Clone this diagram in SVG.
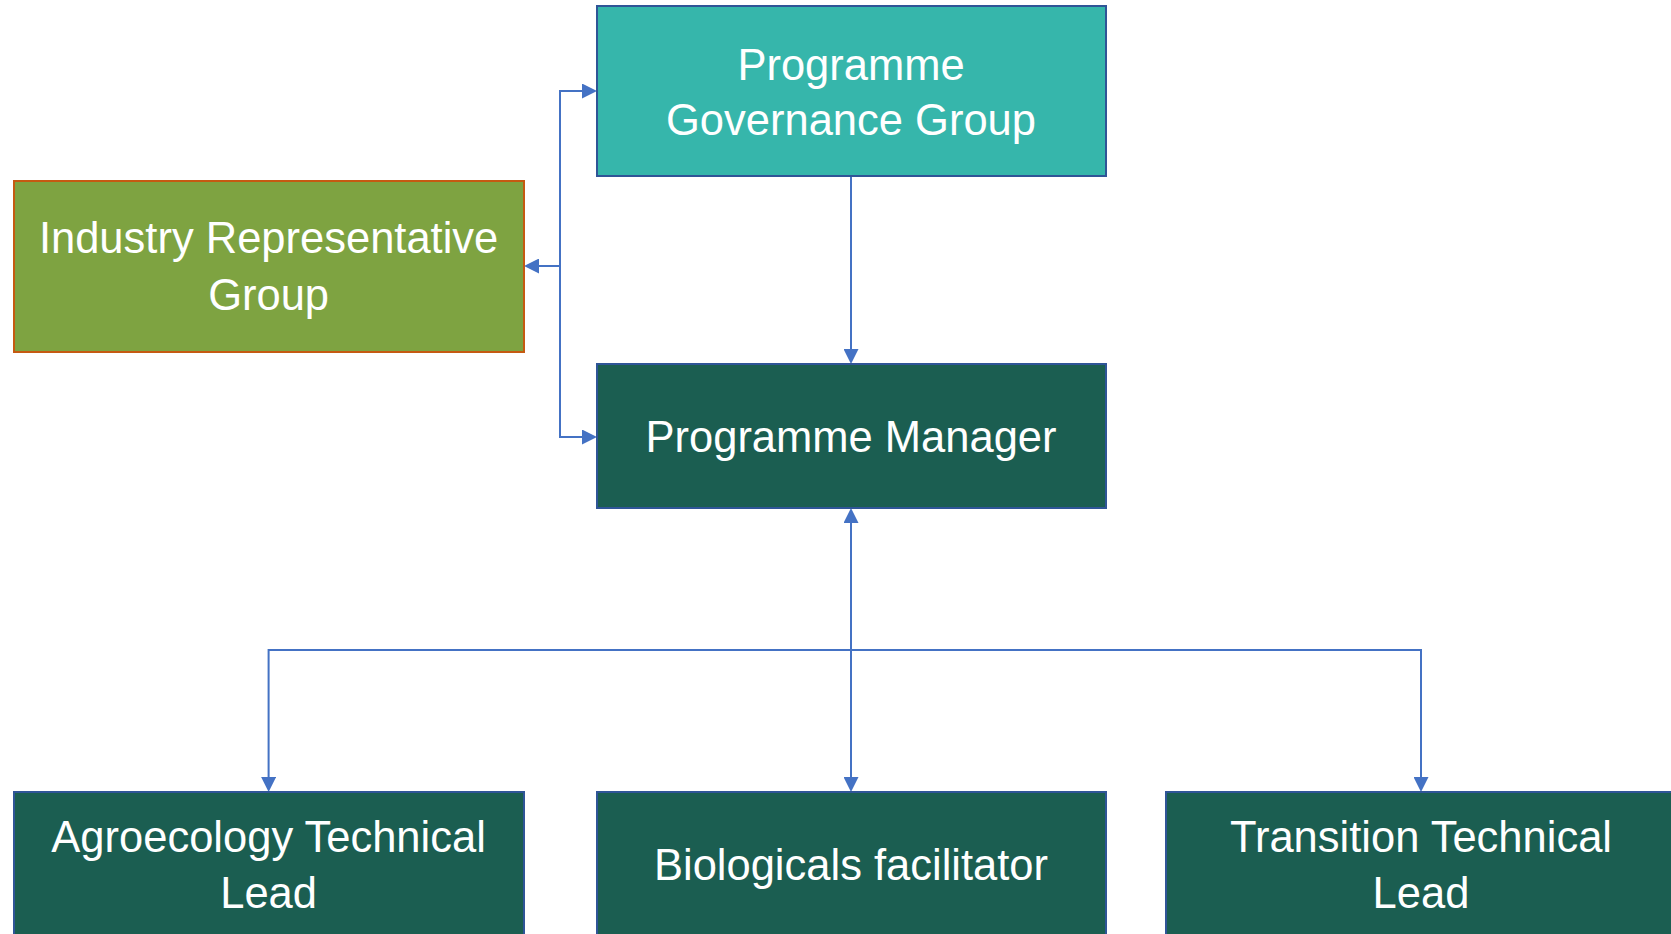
<svg xmlns="http://www.w3.org/2000/svg" width="1671" height="934" viewBox="0 0 1671 934">
<style>
.box{stroke:#2F5597;stroke-width:2}
.teal{fill:#36B6AB}
.dark{fill:#1B5E51}
.olive{fill:#7EA341;stroke:#C55A11;stroke-width:2}
.lbl{font-family:"Liberation Sans",Arial,sans-serif;font-size:43.5px;fill:#FFFFFF;text-anchor:middle}
.conn{fill:none;stroke:#4472C4;stroke-width:2}
</style>
<defs>
<marker id="arr" viewBox="0 0 15 15" refX="5" refY="7.5" markerUnits="userSpaceOnUse" markerWidth="15" markerHeight="15" orient="auto-start-reverse">
<path d="M0,0 L15,7.5 L0,15 z" fill="#4472C4"/>
</marker>
</defs>
<rect width="1671" height="934" fill="#FFFFFF"/>
<g id="connectors">
<path class="conn" d="M851 177 V354" marker-end="url(#arr)"/>
<path class="conn" d="M587 91 H560 V437 H587" marker-start="url(#arr)" marker-end="url(#arr)"/>
<path class="conn" d="M560 266 H534" marker-end="url(#arr)"/>
<path class="conn" d="M851 518 V782" marker-start="url(#arr)" marker-end="url(#arr)"/>
<path class="conn" d="M268.6 782 V650 H1421 V782" marker-start="url(#arr)" marker-end="url(#arr)"/>
</g>
<g id="governance">
<rect class="box teal" x="597" y="6" width="509" height="170"/>
<text class="lbl" x="851" y="80">Programme</text>
<text class="lbl" x="851" y="135">Governance Group</text>
</g>
<g id="industry">
<rect class="olive" x="14" y="181" width="510" height="171"/>
<text class="lbl" x="268.6" y="253">Industry Representative</text>
<text class="lbl" x="268.6" y="310">Group</text>
</g>
<g id="manager">
<rect class="box dark" x="597" y="364" width="509" height="144"/>
<text class="lbl" x="851" y="452">Programme Manager</text>
</g>
<g id="agroecology">
<rect class="box dark" x="14" y="792" width="510" height="160"/>
<text class="lbl" x="268.6" y="852">Agroecology Technical</text>
<text class="lbl" x="268.6" y="908">Lead</text>
</g>
<g id="biologicals">
<rect class="box dark" x="597" y="792" width="509" height="160"/>
<text class="lbl" x="851" y="880">Biologicals facilitator</text>
</g>
<g id="transition">
<rect class="box dark" x="1166" y="792" width="520" height="160"/>
<text class="lbl" x="1421" y="852">Transition Technical</text>
<text class="lbl" x="1421" y="908">Lead</text>
</g>
</svg>
